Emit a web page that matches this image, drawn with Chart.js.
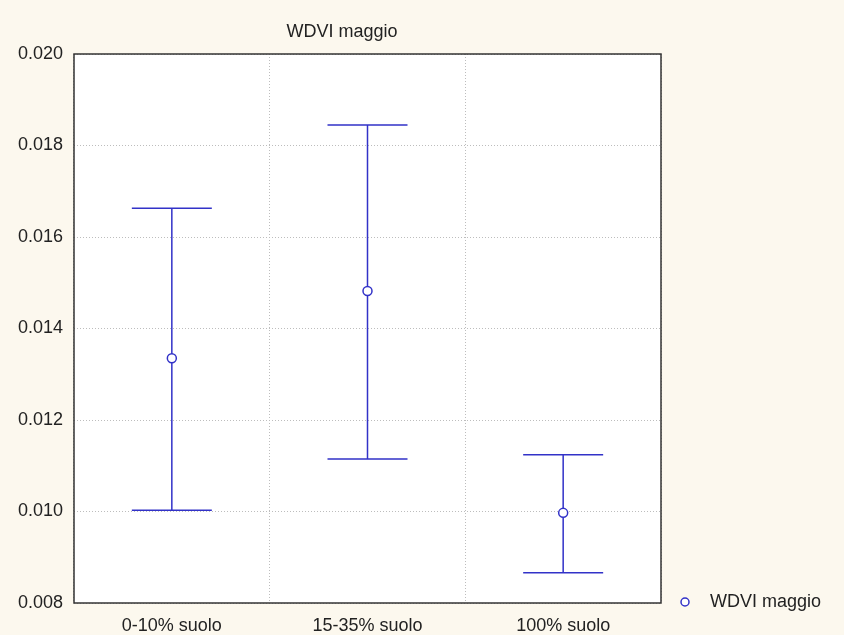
<!DOCTYPE html>
<html>
<head>
<meta charset="utf-8">
<script src="https://cdn.jsdelivr.net/npm/chart.js"></script>
<style>
  html, body { margin: 0; padding: 0; background: #fcf8ee; }
  #wrap { width: 844px; height: 635px; }
</style>
</head>
<body>
<div id="wrap"><canvas id="myChart" width="844" height="635"></canvas></div>
<script>
// data
const categories = ["0-10% suolo", "15-35% suolo", "100% suolo"];
const means = [0.01335, 0.01482, 0.00997];
const upper = [0.01663, 0.01845, 0.01124];
const lower = [0.01003, 0.01115, 0.00866];
const yTicks = [0.008, 0.010, 0.012, 0.014, 0.016, 0.018, 0.020];
const seriesName = "WDVI maggio";
const chartTitle = "WDVI maggio";

const blue = "#3232c8";
const font = "Liberation Sans, Arial, sans-serif";

// white plot area + frame, error bars, title and legend
const decor = {
  id: "decor",
  beforeDraw(chart) {
    const { ctx, chartArea: a } = chart;
    ctx.save();
    ctx.fillStyle = "#fcf8ee";
    ctx.fillRect(0, 0, chart.width, chart.height);
    ctx.fillStyle = "#ffffff";
    ctx.fillRect(a.left, a.top, a.right - a.left, a.bottom - a.top);
    ctx.restore();
  },
  beforeDatasetsDraw(chart) {
    const { ctx } = chart;
    const x = chart.scales.x, y = chart.scales.y;
    ctx.save();
    ctx.strokeStyle = blue;
    ctx.lineWidth = 1.5;
    categories.forEach((c, i) => {
      const px = x.getPixelForValue(i);
      const top = y.getPixelForValue(upper[i]);
      const bot = y.getPixelForValue(lower[i]);
      ctx.beginPath();
      ctx.moveTo(px, top); ctx.lineTo(px, bot);
      ctx.moveTo(px - 40, top); ctx.lineTo(px + 40, top);
      ctx.moveTo(px - 40, bot); ctx.lineTo(px + 40, bot);
      ctx.stroke();
    });
    ctx.restore();
  },
  afterDraw(chart) {
    const { ctx, chartArea: a } = chart;
    ctx.save();
    ctx.strokeStyle = "#333333";
    ctx.lineWidth = 1.5;
    ctx.strokeRect(a.left, a.top, a.right - a.left, a.bottom - a.top);

    ctx.fillStyle = "#222222";
    ctx.font = "18px " + font;
    ctx.textBaseline = "middle";
    ctx.textAlign = "center";
    ctx.fillText(chartTitle, 342, 32);

    // legend
    ctx.beginPath();
    ctx.arc(685, 602, 4, 0, Math.PI * 2);
    ctx.fillStyle = "#ffffff";
    ctx.fill();
    ctx.strokeStyle = blue;
    ctx.lineWidth = 1.5;
    ctx.stroke();
    ctx.fillStyle = "#222222";
    ctx.textAlign = "left";
    ctx.fillText(seriesName, 710, 602);
    ctx.restore();
  }
};

new Chart(document.getElementById("myChart").getContext("2d"), {
  type: "line",
  data: {
    labels: categories,
    datasets: [{
      label: seriesName,
      data: means,
      showLine: false,
      pointStyle: "circle",
      pointRadius: 4.5,
      pointBorderWidth: 1.5,
      pointBackgroundColor: "#ffffff",
      pointBorderColor: blue
    }]
  },
  options: {
    responsive: false,
    animation: false,
    layout: { padding: { top: 54, right: 183, bottom: 0, left: 0 } },
    plugins: {
      legend: { display: false },
      title: { display: false },
      tooltip: { enabled: false }
    },
    scales: {
      x: {
        offset: true,
        grid: { offset: true, color: "#bdbdbd", drawTicks: false, lineWidth: 1 },
        border: { display: false, dash: [1, 2] },
        ticks: { color: "#222222", padding: 12, font: { family: font, size: 18 } },
        afterFit(scale) { scale.height = 32; }
      },
      y: {
        min: 0.008,
        max: 0.020,
        afterBuildTicks(scale) { scale.ticks = yTicks.map(v => ({ value: v })); },
        grid: { color: "#bdbdbd", drawTicks: false, lineWidth: 1 },
        border: { display: false, dash: [1, 2] },
        ticks: {
          color: "#222222",
          padding: 11,
          font: { family: font, size: 18 },
          callback: v => v.toFixed(3)
        },
        afterFit(scale) { scale.width = 74; }
      }
    }
  },
  plugins: [decor]
});
</script>
</body>
</html>
